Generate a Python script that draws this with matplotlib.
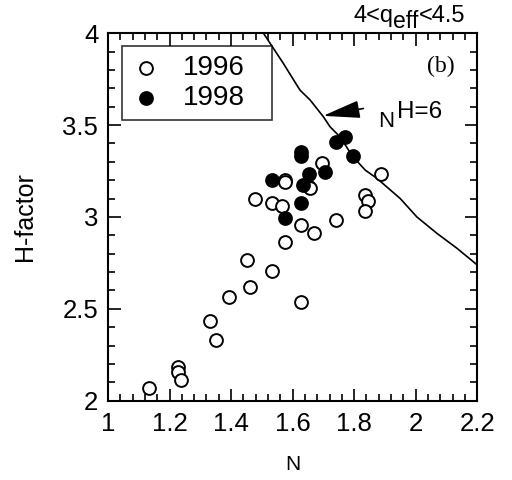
import numpy as np
import matplotlib
matplotlib.use('Agg')
import matplotlib.pyplot as plt
from matplotlib.ticker import MultipleLocator
from matplotlib.transforms import IdentityTransform

plt.rcParams['font.family'] = ['Liberation Sans', 'DejaVu Sans']

# Data: 1996 discharges (open circles)
n_1996 = [1.133, 1.229, 1.229, 1.237, 1.333, 1.350, 1.393, 1.452, 1.462,
          1.478, 1.532, 1.532, 1.567, 1.576, 1.576, 1.576, 1.627, 1.627,
          1.651, 1.657, 1.671, 1.697, 1.740, 1.836, 1.845, 1.836, 1.887]
h_1996 = [2.07, 2.186, 2.156, 2.114, 2.433, 2.332, 2.564, 2.766, 2.621,
          3.10, 3.074, 2.708, 3.06, 3.20, 3.19, 2.866, 2.957, 2.536,
          3.17, 3.16, 2.911, 3.292, 2.984, 3.12, 3.087, 3.03, 3.234]

# Data: 1998 discharges (filled circles)
n_1998 = [1.532, 1.576, 1.628, 1.628, 1.628, 1.635, 1.654, 1.706, 1.741, 1.769, 1.795]
h_1998 = [3.201, 2.996, 3.355, 3.33, 3.074, 3.174, 3.234, 3.246, 3.41, 3.437, 3.333]

# N^{H=6} curve
n_curve = [1.505, 1.570, 1.624, 1.657, 1.700, 1.722, 1.754, 1.795, 1.836,
           1.874, 1.950, 2.004, 2.069, 2.134, 2.20]
h_curve = [4.0, 3.835, 3.69, 3.636, 3.545, 3.49, 3.436, 3.33, 3.255,
           3.21, 3.10, 3.0, 2.911, 2.83, 2.739]

x_ticks = [1, 1.2, 1.4, 1.6, 1.8, 2, 2.2]
x_labels = ['1', '1.2', '1.4', '1.6', '1.8', '2', '2.2']
y_ticks = [2, 2.5, 3, 3.5, 4]
y_labels = ['2', '2.5', '3', '3.5', '4']

fig = plt.figure(figsize=(5.12, 4.8), dpi=100)
ax = fig.add_axes([0.211, 0.165, 0.721, 0.766])

ax.plot(n_curve, h_curve, color='black', lw=1.2)
ax.scatter(n_1996, h_1996, s=85, facecolors='white', edgecolors='black',
           linewidths=1.4, zorder=3, label='1996')
ax.scatter(n_1998, h_1998, s=85, facecolors='black', edgecolors='black',
           linewidths=1.4, zorder=4, label='1998')

ax.set_xlim(1, 2.2)
ax.set_ylim(2, 4)
ax.set_xticks(x_ticks)
ax.set_xticklabels(x_labels)
ax.set_yticks(y_ticks)
ax.set_yticklabels(y_labels)
ax.xaxis.set_minor_locator(MultipleLocator(0.04))
ax.yaxis.set_minor_locator(MultipleLocator(0.1))
ax.tick_params(which='both', direction='in', top=True, right=True, width=1.2)
ax.tick_params(which='major', length=9, labelsize=18.5)
ax.tick_params(which='minor', length=5)
ax.tick_params(axis='x', pad=8)
ax.tick_params(axis='y', pad=7)
for sp in ax.spines.values():
    sp.set_linewidth(1.5)

ax.set_xlabel('N', fontsize=15, labelpad=14)
ax.set_ylabel('H-factor', fontsize=18, labelpad=18)

leg = ax.legend(loc='upper left', bbox_to_anchor=(0.038, 0.78, 0.407, 0.185),
                mode='expand', fontsize=20, frameon=True, fancybox=False,
                edgecolor='black', borderaxespad=0, handlelength=1.05,
                handletextpad=0.8, borderpad=0.33, labelspacing=0.15,
                scatterpoints=1)
leg.get_frame().set_linewidth(1.2)

# title pieces: 4<q_eff<4.5 (subscript kept near full size, as in the original)
fig.canvas.draw()
r = fig.canvas.get_renderer()
t3 = ax.text(0.967, 1.03, '<4.5', transform=ax.transAxes, ha='right',
             va='baseline', fontsize=17)
bb = t3.get_window_extent(r)
base_y = ax.transAxes.transform((0.967, 1.03))[1]
t2 = ax.text(bb.x0, base_y - 6, 'eff', ha='right', va='baseline',
             fontsize=16.5, transform=IdentityTransform())
bb2 = t2.get_window_extent(r)
ax.text(bb2.x0, base_y, '4<q', ha='right', va='baseline', fontsize=17,
        transform=IdentityTransform())

ax.text(0.902, 0.91, '(b)', transform=ax.transAxes, ha='center', va='center',
        fontsize=17, family='Liberation Serif')

ax.annotate('', xy=(1.699, 3.55), xytext=(1.83, 3.59),
            arrowprops=dict(arrowstyle='-|>,head_length=2.3,head_width=0.55',
                            color='black', lw=1.2, shrinkA=0, shrinkB=0))
ax.text(1.877, 3.49, 'N', fontsize=16, ha='left', va='baseline')
ax.text(1.94, 3.538, 'H=6', fontsize=17.5, ha='left', va='baseline')

fig.savefig('out.png', dpi=100)
